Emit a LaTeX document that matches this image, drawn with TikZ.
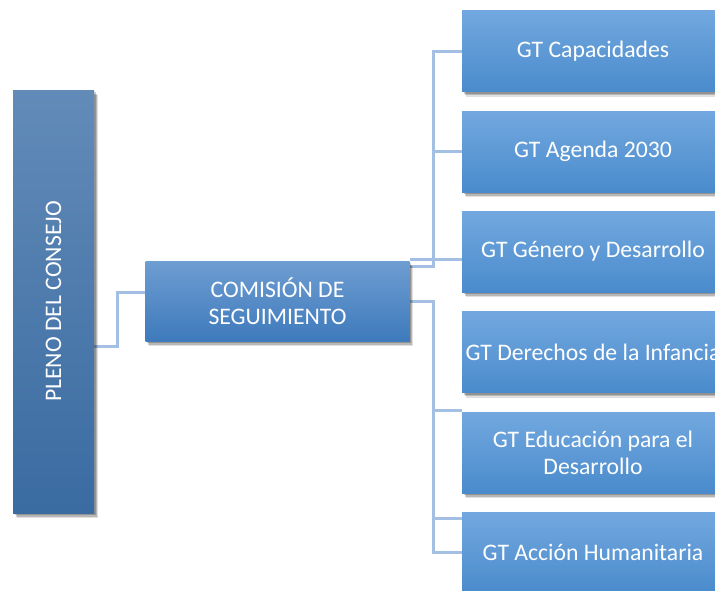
\documentclass[tikz,border=0pt]{standalone}
\usepackage{fontspec}
\setmainfont{Carlito}
\usetikzlibrary{shadows,calc}
\pgfdeclarelayer{bg}
\pgfdeclarelayer{paper}
\pgfsetlayers{paper,bg,main}
\definecolor{conncol}{HTML}{A3BFE3}
\definecolor{plenotop}{HTML}{628BB8}
\definecolor{plenobot}{HTML}{3A6BA1}
\definecolor{comtop}{HTML}{6E9DD1}
\definecolor{combot}{HTML}{3E7ABC}
\definecolor{gttop}{HTML}{72A8DF}
\definecolor{gtbot}{HTML}{4A8BCC}
\tikzset{
  boxbase/.style={inner sep=0pt, text=white, align=center,
    font=\fontsize{23.7}{27}\selectfont,
    drop shadow={shadow xshift=3.5pt, shadow yshift=-5pt, fill=black, opacity=0.12},
    drop shadow={shadow xshift=2.5pt, shadow yshift=-3.5pt, fill=black, opacity=0.18},
    drop shadow={shadow xshift=1.5pt, shadow yshift=-2pt, fill=black, opacity=0.2}},
  plenobox/.style={boxbase, top color=plenotop, bottom color=plenobot, minimum width=81pt, minimum height=423pt},
  combox/.style={boxbase, top color=comtop, bottom color=combot, minimum width=264pt, minimum height=80pt},
  gtbox/.style={boxbase, top color=gttop, bottom color=gtbot, minimum width=262pt, minimum height=81pt},
  conn/.style={draw=conncol, line width=3pt}
}
\begin{document}
\begin{tikzpicture}[x=1pt,y=-1pt]
\clip (0,0) rectangle (715,590);
\begin{pgfonlayer}{paper}
\fill[white] (0,0) rectangle (715,590);
\end{pgfonlayer}
\node[plenobox] (pleno) at (53.5,301.5) {\rotatebox{90}{PLENO DEL CONSEJO}};
\node[combox] (com) at (277.5,301) {COMISIÓN DE\\SEGUIMIENTO};
\node[gtbox] (gt1) at (593,51) {GT Capacidades};
\node[gtbox] (gt2) at (593,151.5) {GT Agenda 2030};
\node[gtbox] (gt3) at (593,251.5) {GT Género y Desarrollo};
\node[gtbox] (gt4) at (593,352) {GT Derechos de la Infancia};
\node[gtbox] (gt5) at (593,452.5) {GT Educación para el\\Desarrollo};
\node[gtbox] (gt6) at (593,552.5) {GT Acción Humanitaria};
\begin{pgfonlayer}{bg}
\draw[conn] ([yshift=-44.5pt]pleno.east) -| ([xshift=-28pt,yshift=9pt]com.west) -- ([yshift=9pt]com.west);
\draw[conn] ([yshift=-6pt]com.north east) -| ([xshift=-28pt]gt1.west) -- (gt1.west);
\draw[conn] (gt2.west) -- ++(-28,0);
\draw[conn] ([yshift=1pt]com.north east) -- ([yshift=1pt]com.north east -| gt3.west);
\draw[conn] (com.east) -| ([xshift=-28pt,yshift=-7pt]gt6.north west) -- ([yshift=-7pt]gt6.north west);
\draw[conn] ([xshift=-28pt,yshift=-7pt]gt6.north west) |- (gt6.west);
\draw[conn] ([yshift=1pt]gt5.north west) -- ++(-28,0);
\end{pgfonlayer}
\end{tikzpicture}
\end{document}
